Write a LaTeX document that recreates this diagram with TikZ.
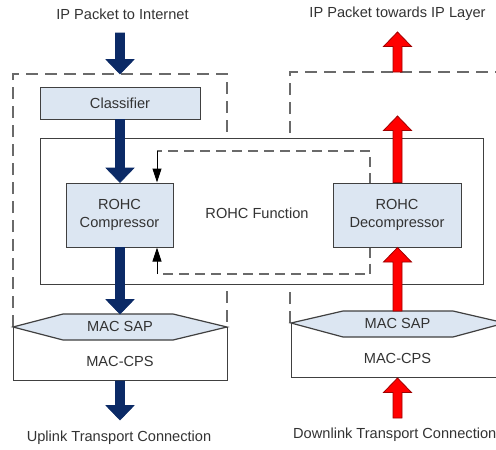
\documentclass[tikz,border=0pt]{standalone}
\usepackage{fontspec}
\setmainfont{Liberation Sans}
\usetikzlibrary{calc,arrows.meta}
\definecolor{boxfill}{HTML}{DCE6F2}
\definecolor{boxline}{HTML}{404040}
\definecolor{navyarrow}{HTML}{0B2A66}
\definecolor{redfill}{HTML}{FF0000}
\definecolor{redline}{HTML}{A00000}
\definecolor{dashgray}{HTML}{6A6A6A}
\definecolor{textgray}{HTML}{333333}
\newcommand{\fatarrow}[3]{%
  \filldraw[#1] let \p1=(#2), \p2=(#3), \n1={sign(\y2-\y1)} in
   ({\x1-4.5pt},\y1) -- ({\x1-4.5pt},{\y2-\n1*14.5pt}) -- ({\x1-14pt},{\y2-\n1*14.5pt})
   -- (\x1,\y2) -- ({\x1+14pt},{\y2-\n1*14.5pt}) -- ({\x1+4.5pt},{\y2-\n1*14.5pt})
   -- ({\x1+4.5pt},\y1) -- cycle;}
\tikzset{
  procbox/.style={draw=boxline, fill=boxfill, line width=1pt, align=center, inner sep=0pt},
  plainbox/.style={draw=boxline, fill=white, line width=1pt, inner sep=0pt, anchor=north west},
  dashbox/.style={draw=dashgray, line width=1.2pt, dash pattern=on 12pt off 7pt},
  sapshape/.style={draw=boxline, fill=boxfill, line width=1.2pt},
  bluearr/.style={fill=navyarrow, draw=navyarrow, line width=0.6pt, line join=miter},
  redarr/.style={fill=redfill, draw=redline, line width=0.8pt, line join=miter},
  loopdash/.style={draw=dashgray, line width=1.2pt, dash pattern=on 10pt off 6pt},
  looparr/.style={draw=black, line width=1pt, -{Triangle[width=9pt,length=14pt]}},
  lbl/.style={inner sep=0pt, align=center},
}
\begin{document}
\begin{tikzpicture}[x=1pt,y=-1pt, font=\fontsize{14.6}{18}\selectfont, text=textgray]
\useasboundingbox (0,0) rectangle (496,450);
\clip (0,0) rectangle (496,450);
% dashed enclosures
\draw[dashbox] (13,327) -- (13,74) -- (227,74) -- (227,327);
\draw[dashbox] (290,323) -- (290,72) -- (505,72) -- (505,323);
% ROHC function box
\node[plainbox, minimum width=443pt, minimum height=146pt] (func) at (40,138) {};
\node[lbl] (functxt) at (257,213) {ROHC Function};
% MAC-CPS boxes
\node[plainbox, minimum width=214pt, minimum height=53pt] (cpsL) at (13,327) {};
\node[plainbox, minimum width=214pt, minimum height=54pt] (cpsR) at (291,323) {};
\node[lbl] (cpsLtxt) at (120,361) {MAC-CPS};
\node[lbl] (cpsRtxt) at (397.5,358) {MAC-CPS};
% MAC SAP hexagons
\filldraw[sapshape] (13,327) -- (63,314) -- (173,314) -- (227,327) -- (173,340) -- (63,340) -- cycle;
\filldraw[sapshape] (291,323) -- (343,311) -- (453,311) -- (505,323) -- (453,337) -- (343,337) -- cycle;
\node[lbl] (sapLtxt) at (120,326) {MAC SAP};
\node[lbl] (sapRtxt) at (397.5,323) {MAC SAP};
\coordinate (sapLtop) at (120,314);
\coordinate (sapRtop) at (397.5,311);
% process boxes
\node[procbox, minimum width=160pt, minimum height=32pt] (cls) at (120,103) {Classifier};
\node[procbox, minimum width=107pt, minimum height=64pt] (comp) at (119.5,215) {ROHC\\Compressor};
\node[procbox, minimum width=128pt, minimum height=64pt] (decomp) at (397,215) {ROHC\\Decompressor};
% labels
\node[lbl] (inlbl) at (122.5,14) {IP Packet to Internet};
\node[lbl] (outlbl) at (397.5,14) {IP Packet towards IP Layer};
\node[lbl] (uplbl) at (119,438) {Uplink Transport Connection};
\node[lbl, anchor=west] (dnlbl) at (293,435) {Downlink Transport Connection};
% arrow end points
\coordinate (inTop) at (120,33);
\coordinate (dashTopL) at (120,74);
\coordinate (outBot) at (120,420);
\coordinate (redIn) at (397.5,418);
\coordinate (redMid) at (397.5,116);
\coordinate (dashTopR) at (397.5,72);
\coordinate (redOut) at (397.5,32);
% uplink arrows
\fatarrow{bluearr}{inTop}{dashTopL}
\fatarrow{bluearr}{cls.south}{cls.south |- comp.north}
\fatarrow{bluearr}{comp.south -| sapLtop}{sapLtop}
\fatarrow{bluearr}{cpsL.south -| outBot}{outBot}
% downlink arrows
\fatarrow{redarr}{redIn}{cpsR.south -| redIn}
\fatarrow{redarr}{sapRtop}{decomp.south -| sapRtop}
\fatarrow{redarr}{decomp.north -| redMid}{redMid}
\fatarrow{redarr}{dashTopR}{redOut}
% feedback loop
\coordinate (rt) at (370,151);
\coordinate (lt) at (157,151);
\coordinate (rb) at (370,274);
\coordinate (lb) at (157,274);
\draw[loopdash] (decomp.north -| rt) -- (rt) -- (lt);
\draw[looparr] (lt) -- (comp.north -| lt);
\draw[loopdash] (decomp.south -| rb) -- (rb) -- (lb);
\draw[looparr] (lb) -- (comp.south -| lb);
\end{tikzpicture}
\end{document}
